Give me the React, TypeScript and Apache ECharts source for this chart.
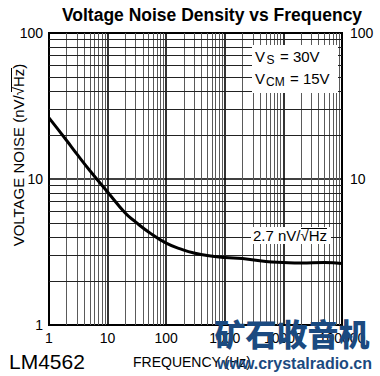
import React, { useEffect, useRef } from "react";
import * as echarts from "echarts";

// Curve (frequency in Hz, noise in nV/√Hz)
const FREQ_HZ = [1, 2, 3, 5, 10, 20, 30, 50, 100, 200, 300, 500, 1000, 2000, 5000, 10000, 20000, 50000, 100000];
const NOISE_NV = [26.2, 18.35, 14.8, 11.4, 8.15, 5.85, 5.08, 4.34, 3.64, 3.26, 3.11, 2.99, 2.9, 2.85, 2.72, 2.68, 2.66, 2.68, 2.64];

// Minor grid positions
const X_MINOR = [
  2, 3, 4, 5, 6, 7, 8, 9,
  20, 30, 40, 50, 60, 70, 80, 90,
  200, 300, 400, 500, 600, 700, 800, 900,
  2000, 3000, 4000, 5000, 6000, 7000, 8000, 9000,
  20000, 30000, 40000, 50000, 60000, 70000, 80000, 90000,
];
const Y_MINOR = [2, 3, 4, 5, 6, 7, 8, 9, 20, 30, 40, 50, 60, 70, 80, 90];

const X_RANGE = [1, 100000];
const Y_RANGE = [1, 100];

const TITLE = "Voltage Noise Density vs Frequency";
const Y_NAME = "VOLTAGE NOISE (nV/\u221AHz)";
const X_NAME = "FREQUENCY (Hz)";
const NOISE_LABEL = "2.7 nV/\u221AHz";

const FONT = "'Liberation Sans', Arial, Helvetica, sans-serif";

export default function App() {
  const ref = useRef<HTMLDivElement>(null);

  useEffect(() => {
    if (!ref.current) return;
    const chart = echarts.init(ref.current, undefined, { renderer: "svg" });

    const minorX = { color: "#5a5a5a", width: 1, type: "solid" };
    const minorY = { color: "#222", width: 1, type: "solid" };

    const option: any = {
      animation: false,
      backgroundColor: "#fff",
      textStyle: { fontFamily: FONT },
      grid: {
        left: 49,
        right: 38,
        top: 33,
        bottom: 51,
        show: true,
        borderColor: "#000",
        borderWidth: 2,
        backgroundColor: "#fff",
        containLabel: false,
      },
      xAxis: {
        type: "log",
        logBase: 10,
        min: X_RANGE[0],
        max: X_RANGE[1],
        axisLine: { show: false },
        axisTick: { show: false },
        axisLabel: {
          color: "#000",
          fontSize: 14,
          fontFamily: FONT,
          margin: 6,
          formatter: (v: number) => String(Math.round(v)),
        },
        splitLine: { show: true, lineStyle: { color: "#000", width: 1.6 } },
      },
      yAxis: [
        {
          type: "log",
          logBase: 10,
          min: Y_RANGE[0],
          max: Y_RANGE[1],
          axisLine: { show: false },
          axisTick: { show: false },
          axisLabel: {
            color: "#000",
            fontSize: 14,
            fontFamily: FONT,
            margin: 6,
            formatter: (v: number) => String(Math.round(v)),
          },
          splitLine: { show: true, lineStyle: { color: "#000", width: 1.6 } },
        },
        {
          type: "log",
          logBase: 10,
          min: Y_RANGE[0],
          max: Y_RANGE[1],
          position: "right",
          axisLine: { show: false },
          axisTick: { show: false },
          axisLabel: {
            color: "#000",
            fontSize: 14,
            fontFamily: FONT,
            margin: 8,
            showMinLabel: false,
            formatter: (v: number) => String(Math.round(v)),
          },
          splitLine: { show: false },
        },
      ],
      series: [
        {
          type: "line",
          data: [],
          z: 1,
          silent: true,
          markLine: {
            silent: true,
            symbol: ["none", "none"],
            label: { show: false },
            emphasis: { disabled: true },
            data: [
              ...X_MINOR.map((v) => ({ xAxis: v, lineStyle: minorX })),
              ...Y_MINOR.map((v) => ({ yAxis: v, lineStyle: minorY })),
            ],
          },
        },
        {
          type: "line",
          z: 5,
          data: FREQ_HZ.map((f, i) => [f, NOISE_NV[i]]),
          smooth: 0.5,
          symbol: "none",
          lineStyle: { color: "#000", width: 3 },
        },
      ],
      graphic: [
        {
          type: "text",
          x: 212,
          y: 15,
          z: 100,
          style: {
            text: TITLE,
            font: `bold 17.5px ${FONT}`,
            fill: "#000",
            align: "center",
            verticalAlign: "middle",
          },
        },
        // conditions box
        {
          type: "rect",
          z: 100,
          shape: { x: 252, y: 45, width: 86, height: 48 },
          style: { fill: "#fff", stroke: null },
        },
        { type: "text", z: 101, x: 255, y: 56, style: { text: "V", font: `15px ${FONT}`, fill: "#000", verticalAlign: "middle" } },
        { type: "text", z: 101, x: 266.5, y: 59.5, style: { text: "S", font: `12px ${FONT}`, fill: "#000", verticalAlign: "middle" } },
        { type: "text", z: 101, x: 280, y: 56, style: { text: "= 30V", font: `15px ${FONT}`, fill: "#000", verticalAlign: "middle" } },
        { type: "text", z: 101, x: 255, y: 78.5, style: { text: "V", font: `15px ${FONT}`, fill: "#000", verticalAlign: "middle" } },
        { type: "text", z: 101, x: 266, y: 82, style: { text: "CM", font: `12px ${FONT}`, fill: "#000", verticalAlign: "middle" } },
        { type: "text", z: 101, x: 290, y: 78.5, style: { text: "= 15V", font: `15px ${FONT}`, fill: "#000", verticalAlign: "middle" } },
        // 2.7 nV/√Hz label
        {
          type: "rect",
          z: 100,
          shape: { x: 251, y: 227, width: 80, height: 17 },
          style: { fill: "#fff", stroke: null },
        },
        { type: "text", z: 101, x: 253, y: 235.5, style: { text: NOISE_LABEL, font: `15px ${FONT}`, fill: "#000", verticalAlign: "middle" } },
        { type: "line", z: 101, shape: { x1: 301, y1: 228.5, x2: 327, y2: 228.5 }, style: { stroke: "#000", lineWidth: 1 } },
        // y axis name (rotated) with overline over Hz
        {
          type: "group",
          x: 18,
          y: 155,
          rotation: Math.PI / 2,
          z: 100,
          children: [
            { type: "text", x: 0, y: 0, style: { text: Y_NAME, font: `15px ${FONT}`, fill: "#000", align: "center", verticalAlign: "middle" } },
            { type: "line", shape: { x1: 63, y1: -6.5, x2: 87, y2: -6.5 }, style: { stroke: "#000", lineWidth: 1 } },
          ],
        },
        {
          type: "text",
          z: 100,
          x: 133,
          y: 362,
          style: { text: X_NAME, font: `14px ${FONT}`, fill: "#000", verticalAlign: "middle" },
        },
        {
          type: "text",
          z: 100,
          x: 9,
          y: 361,
          style: { text: "LM4562", font: `21px ${FONT}`, fill: "#000", verticalAlign: "middle" },
        },
        // watermark
        {
          type: "text",
          z: 200,
          x: 292,
          y: 332,
          style: {
            text: "矿石收音机",
            font: `900 31px 'Noto Sans CJK SC', sans-serif`,
            fill: "#1b4a80",
            align: "center",
            verticalAlign: "middle",
          },
        },
        {
          type: "text",
          z: 200,
          x: 372,
          y: 363,
          style: {
            text: "www.crystalradio.cn",
            font: `bold 16px ${FONT}`,
            fill: "#1b4a80",
            align: "right",
            verticalAlign: "middle",
          },
        },
      ],
    };

    chart.setOption(option);
    return () => chart.dispose();
  }, []);

  return (
    <div
      ref={ref}
      style={{ position: "fixed", left: 0, top: 0, width: 380, height: 376, background: "#fff" }}
    />
  );
}
